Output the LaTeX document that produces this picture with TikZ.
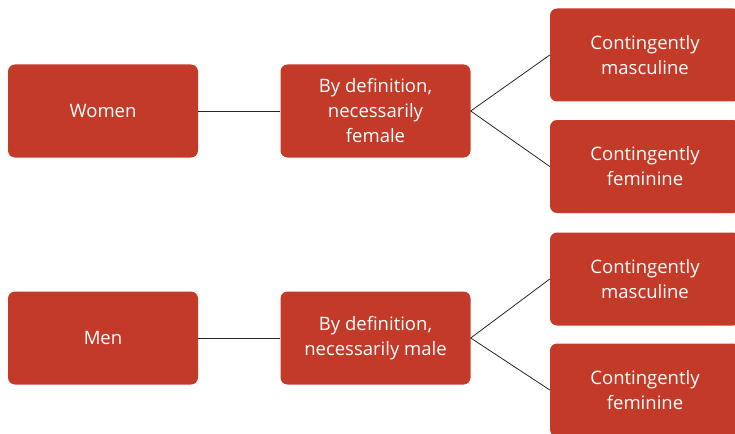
\documentclass[tikz,border=0pt]{standalone}
\usepackage{fontspec}
\setmainfont{Open Sans}
\definecolor{boxred}{RGB}{196,58,40}

\begin{document}
\begin{tikzpicture}[x=1pt, y=-1pt,
    box/.style={fill=boxred, rounded corners=7pt, text=white, align=center,
                minimum width=190pt, minimum height=93pt, inner sep=0pt,
                font=\fontsize{18.5}{25}\selectfont},
    link/.style={draw=black!85, line width=0.8pt}]
                    \path[use as bounding box, clip] (0,0) rectangle (735,433);

                    \node[box] (W) at (103,111) {Women};
                    \node[box] (WF) at (375.5,111) {By definition,\\necessarily\\female};
                    \node[box] (WM1) at (645,55) {Contingently\\masculine};
                    \node[box] (WF1) at (645,166.5) {Contingently\\feminine};

                    \node[box] (M) at (103,338) {Men};
                    \node[box] (MM) at (375.5,338) {By definition,\\necessarily male};
                    \node[box] (MM1) at (645,279) {Contingently\\masculine};
                    \node[box] (MF1) at (645,390) {Contingently\\feminine};

                    \draw[link] (W) -- (WF);
                    \draw[link] (WF.east) -- (WM1.west);
                    \draw[link] (WF.east) -- (WF1.west);
                    \draw[link] (M) -- (MM);
                    \draw[link] (MM.east) -- (MM1.west);
                    \draw[link] (MM.east) -- (MF1.west);
                \end{tikzpicture}
\end{document}
